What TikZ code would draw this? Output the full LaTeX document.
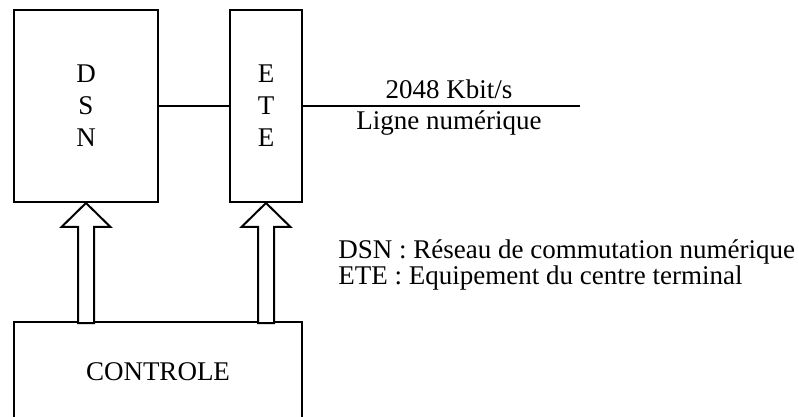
\documentclass[tikz,border=0pt]{standalone}
\usepackage{fontspec}
\setmainfont{Liberation Serif}
\usetikzlibrary{positioning,calc}
\tikzset{
  unit/.style={draw,line width=1pt,inner sep=0pt,align=center,
               font=\fontsize{13.5pt}{16pt}\selectfont},
  link/.style={draw,line width=1pt},
  blockarrow/.style={draw,line width=1pt,fill=white,line join=miter},
  legend/.style={inner sep=0pt,anchor=base,font=\fontsize{13.5pt}{12pt}\selectfont},
}
\begin{document}
\begin{tikzpicture}[x=0.5pt,y=-0.5pt]
  \useasboundingbox (0,0) rectangle (799,417);
  \clip (0,0) rectangle (799,417);
  % the two units and the control block
  \node[unit,minimum width=72pt,minimum height=96pt] (dsn) at (86,106) {D\\S\\N};
  \node[unit,minimum width=36pt,minimum height=96pt] (ete) at (266,106) {E\\T\\E};
  \node[unit,minimum width=144pt,minimum height=50pt] (controle) at (158,372) {CONTROLE};
  % links
  \coordinate (lineend) at (580,106);
  \draw[link] (dsn.east) -- (ete.west);
  \draw[link] (ete.east) -- (lineend);
  \node[legend] (debit) at (449,99) {2048 Kbit/s};
  \node[legend] (ligne) at (449,130) {Ligne numérique};
  % control arrows
  \foreach \n in {dsn,ete}{
    \draw[blockarrow] (\n.south) -- ++(24.5,24) -- ++(-16.5,0) -- ++(0,96)
      -- ++(-16,0) -- ++(0,-96) -- ++(-16.5,0) -- cycle;}
  % legend
  \node[legend,anchor=base west] (legdsn) at (338,259)
    {DSN : Réseau de commutation numérique};
  \node[legend,anchor=base west] (legete) at (338,285)
    {ETE : Equipement du centre terminal};
\end{tikzpicture}
\end{document}
